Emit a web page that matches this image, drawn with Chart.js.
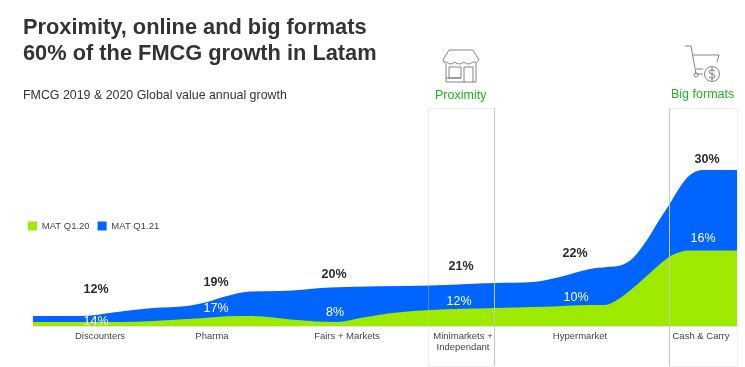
<!DOCTYPE html>
<html><head><meta charset="utf-8">
<script src="https://cdn.jsdelivr.net/npm/chart.js@4/dist/chart.umd.min.js"></script>
<style>
html,body{margin:0;padding:0;background:#fff;width:745px;height:367px;overflow:hidden}
#wrap{position:relative;width:745px;height:367px;font-family:"Liberation Sans",Arial,sans-serif}
canvas{position:absolute;left:0;top:0}
.t{position:absolute;white-space:nowrap}
#title{left:23px;top:14px;font-weight:bold;font-size:21.8px;line-height:26px;color:#333}
#sub{left:23px;top:88px;font-size:12.4px;line-height:15px;color:#333}
.g{color:#1db51d;font-size:12.5px;line-height:15px}
svg{position:absolute;left:0;top:0}
</style></head><body>
<div id="wrap">
<canvas id="c" width="745" height="367"></canvas>
<div class="t" id="title">Proximity, online and big formats<br>60% of the FMCG growth in Latam</div>
<div class="t" id="sub">FMCG 2019 &amp; 2020 Global value annual growth</div>
<div class="t g" style="left:435px;top:88px">Proximity</div>
<div class="t g" style="left:671px;top:87px">Big formats</div>
<svg width="745" height="100" fill="none" stroke="#666" stroke-width="0.8">
<path d="M449 50H473L479 60Q477 64 473 62Q468 66 464 62Q459 66 455 62Q450 66 447 62Q443 63 443 60Z"/>
<path d="M446 63V82H476V63M449 67H461V78H449ZM464 67H473V82M464 67V82M446 78H461"/>
<path d="M685 46H691L696 74M693 55H719L717 62M696 69H703M697 74H703"/>
<circle cx="696" cy="75" r="2"/><circle cx="712" cy="74" r="7.5"/>
<path d="M715 71Q712 68 709 71Q709 74 712 74Q716 75 715 77Q712 80 709 77M712 67V81"/>
</svg>
</div>
<script>
const categories = ["Discounters","Pharma","Fairs + Markets",["Minimarkets +","Independant"],"Hypermarket","Cash & Carry"];
const categoryPositions = [67,179,314,430,547,668];
const seriesNames = ["MAT Q1.20","MAT Q1.21"];
const growthQ120 = ["14%","17%","8%","12%","10%","16%"];
const growthQ121 = ["12%","19%","20%","21%","22%","30%"];
const growthQ120Pos = [[63,5],[183,18],[302,14],[426,25],[543,29],[670,88]];
const growthQ121Pos = [[63,37],[183,44],[301,52],[428,59.5],[542,73],[674,167]];
const q120X = [0,87,154,207,230,264,304,330,364,397,462,520,557,572,584,600,617,636,647,657,704];
const q120Y = [4.5,4.5,7.5,10.5,10,6.5,4.5,9,14,16.5,18.5,20,21.5,21.5,26.5,38.5,53.5,69.5,74.5,76,76];
const q121X = [0,50,80,120,154,174,192,217,247,297,397,462,500,527,557,574,589,600,614,625,636,647,657,670,704];
const q121Y = [10.5,10.5,14,18.5,20.5,24.5,30,35,35.5,39,41,43.5,44.5,49.5,57.5,59.5,61.5,68.5,86.5,104.5,121.5,139.5,151.5,156.5,156.5];
const highlightRanges = [[395,461],[636,704]];

const overlay = {
  id:"overlay",
  afterLayout(chart){
    const l = chart.legend, w = l.right - l.left, h = l.bottom - l.top;
    l.left = 20; l.right = 20 + w; l.top = 225.5 - h/2 + 1.5; l.bottom = l.top + h;
  },
  afterDraw(chart){
    const {ctx, scales:{x,y}} = chart;
    ctx.save();
    ctx.textAlign = "center"; ctx.textBaseline = "middle";
    ctx.font = "12.5px 'Liberation Sans'"; ctx.fillStyle = "#fff";
    growthQ120.forEach((s,i)=>ctx.fillText(s,x.getPixelForValue(growthQ120Pos[i][0]),y.getPixelForValue(growthQ120Pos[i][1])));
    ctx.font = "bold 12.5px 'Liberation Sans'"; ctx.fillStyle = "#2b2b2b";
    growthQ121.forEach((s,i)=>ctx.fillText(s,x.getPixelForValue(growthQ121Pos[i][0]),y.getPixelForValue(growthQ121Pos[i][1])));
    highlightRanges.forEach((r,i)=>{
      const a = x.getPixelForValue(r[0]), b = x.getPixelForValue(r[1]);
      ctx.lineWidth = 1; ctx.strokeStyle = "rgba(205,205,205,0.35)";
      ctx.beginPath(); ctx.moveTo(a+.5,366); ctx.lineTo(a+.5,108.5); ctx.lineTo(b+.5,108.5); ctx.moveTo(a,366.5); ctx.lineTo(b,366.5);
      if(i===1){ctx.moveTo(b+.5,108.5);ctx.lineTo(b+.5,366)}
      ctx.stroke();
      ctx.strokeStyle = "#c6c6c2";
      const g = (i===0?b:a)+.5;
      ctx.beginPath(); ctx.moveTo(g,108); ctx.lineTo(g,366); ctx.stroke();
    });
    ctx.restore();
  }
};

function pts(xs,ys){return xs.map((v,i)=>({x:v,y:ys[i]}));}
new Chart(document.getElementById("c"),{
  type:"line",
  data:{datasets:[
    {label:seriesNames[0],data:pts(q120X,q120Y),backgroundColor:"#9eea00",borderColor:"#9eea00",borderWidth:0,fill:"origin",pointRadius:0,cubicInterpolationMode:"monotone"},
    {label:seriesNames[1],data:pts(q121X,q121Y),backgroundColor:"#0064ff",borderColor:"#0064ff",borderWidth:0,fill:"origin",pointRadius:0,cubicInterpolationMode:"monotone"}
  ]},
  options:{
    responsive:false,animation:false,devicePixelRatio:1,
    layout:{padding:{left:33,right:8,top:0,bottom:0}},
    plugins:{
      title:{display:false},tooltip:{enabled:false},
      legend:{display:true,position:"top",align:"start",
        labels:{boxWidth:9,boxHeight:9,padding:8,color:"#444",font:{size:9.5,family:"'Liberation Sans'"}}}
    },
    scales:{
      x:{type:"linear",min:0,max:704,
        grid:{display:false,tickLength:0},border:{display:false},
        afterBuildTicks(s){s.ticks=categoryPositions.map(v=>({value:v}));},
        afterFit(s){s.height=40.5;},
        ticks:{autoSkip:false,maxRotation:0,padding:4,color:"#444",font:{size:9.5,family:"'Liberation Sans'",lineHeight:1.2},
          callback(v){const i=categoryPositions.indexOf(v);return i>=0?categories[i]:"";}}
      },
      y:{min:0,max:299,display:false}
    }
  },
  plugins:[overlay]
});
</script>
</body></html>
